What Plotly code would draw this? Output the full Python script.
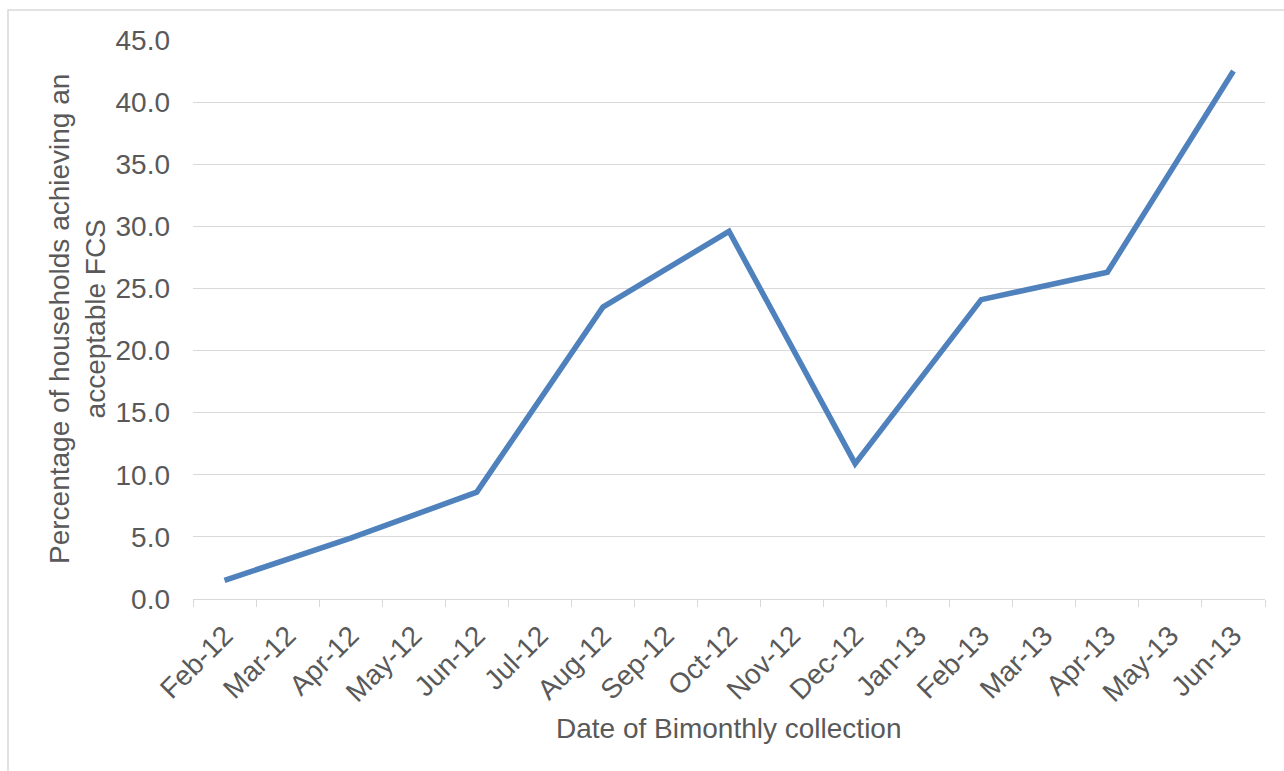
import plotly.graph_objects as go

months = ["Feb-12", "Mar-12", "Apr-12", "May-12", "Jun-12", "Jul-12", "Aug-12", "Sep-12",
          "Oct-12", "Nov-12", "Dec-12", "Jan-13", "Feb-13", "Mar-13", "Apr-13", "May-13", "Jun-13"]
collection_dates = ["Feb-12", "Apr-12", "Jun-12", "Aug-12", "Oct-12", "Dec-12", "Feb-13", "Apr-13", "Jun-13"]
acceptable_fcs = [1.5, 4.9, 8.6, 23.5, 29.6, 10.9, 24.1, 26.3, 42.5]
y_ticks = [0, 5, 10, 15, 20, 25, 30, 35, 40, 45]

W, H = 1284, 771
L, R, T, B = 193, 19, 40, 172
pw, ph = W - L - R, H - T - B

FONT = "Liberation Sans, Arial, sans-serif"
FS = 28
TXT = "#595959"
GRID = "#d9d9d9"

fig = go.Figure()
fig.add_trace(go.Scatter(
    x=collection_dates, y=acceptable_fcs, mode="lines",
    line=dict(color="#4F81BD", width=5.5),
    showlegend=False, hoverinfo="x+y",
))

fig.update_layout(
    width=W, height=H,
    margin=dict(l=L, r=R, t=T, b=B, pad=0),
    paper_bgcolor="white", plot_bgcolor="white",
    font=dict(family=FONT, size=FS, color=TXT),
    xaxis=dict(
        type="category", categoryorder="array", categoryarray=months,
        tickmode="array", tickvals=months, ticktext=months,
        range=[-0.5, len(months) - 0.5],
        tickson="boundaries", ticks="outside", ticklen=7, tickwidth=1, tickcolor=GRID,
        tickangle=-45, showgrid=False, showline=True, linecolor=GRID, linewidth=1,
        zeroline=False, ticklabelstandoff=8,
        tickfont=dict(family=FONT, size=FS, color=TXT),
    ),
    yaxis=dict(
        range=[0, 45], tickmode="array", tickvals=y_ticks,
        ticktext=[f"{v:.1f}" for v in y_ticks],
        showgrid=True, gridcolor=GRID, gridwidth=1,
        zeroline=False, showline=False, ticks="", ticklabelstandoff=22,
        tickfont=dict(family=FONT, size=FS, color=TXT),
    ),
    annotations=[
        dict(text="Date of Bimonthly collection", xref="paper", yref="paper",
             x=0.5, y=(599 - 728) / ph, xanchor="center", yanchor="middle",
             showarrow=False, font=dict(family=FONT, size=FS, color=TXT)),
        dict(text="Percentage of households achieving an<br>acceptable FCS",
             xref="paper", yref="paper", x=(77 - L) / pw, y=(599 - 319) / ph,
             xanchor="center", yanchor="middle", textangle=-90, showarrow=False,
             font=dict(family=FONT, size=FS, color=TXT)),
    ],
    shapes=[
        dict(type="rect", xref="paper", yref="paper",
             x0=(8 - L) / pw, x1=(W + 20 - L) / pw,
             y0=(599 - (H + 20)) / ph, y1=(599 - 10) / ph,
             line=dict(color=GRID, width=1.5), fillcolor="rgba(0,0,0,0)", layer="below"),
    ],
)

fig.write_html("out.html")
